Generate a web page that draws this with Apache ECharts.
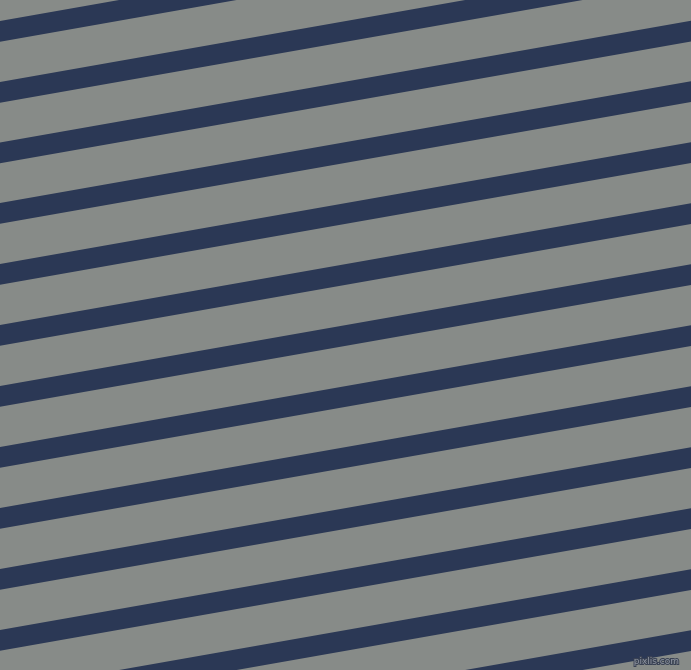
<!DOCTYPE html>
<html>
<head>
<meta charset="utf-8">
<script src="https://cdn.jsdelivr.net/npm/echarts@6/dist/echarts.min.js"></script>
<style>
html,body{margin:0;padding:0;background:#878b88;}
#main{width:691px;height:670px;}
</style>
</head>
<body>
<div id="main"></div>
<script>
// Stripe top-edge y values where each stripe meets the left (x=0) and right (x=691) edges
const stripeTopLeft  = [21, 82, 142.5, 203, 264, 325, 386, 447, 508, 569, 630, 691, 752];
const stripeTopRight = [-100.8, -39.8, 20.7, 81.2, 142.2, 203.2, 264.2, 325.2, 386.2, 447.2, 508.2, 569.2, 630.2];
const stripeThickness = [20.7, 20.7, 20.7, 20.7, 20.7, 20.7, 20.7, 20.7, 20.7, 20.7, 20.7, 20.7, 20.7];
const xExtent = [0, 691];
const yExtent = [0, 670];
const watermark = 'pixlis.com';

const data = stripeTopLeft.map((t, i) => [t, stripeTopRight[i], stripeThickness[i]]);

const chart = echarts.init(document.getElementById('main'), null, {renderer: 'canvas'});
chart.setOption({
  animation: false,
  backgroundColor: '#878b88',
  grid: {left: 0, right: 0, top: 0, bottom: 0},
  xAxis: {type: 'value', min: xExtent[0], max: xExtent[1], show: false},
  yAxis: {type: 'value', min: yExtent[0], max: yExtent[1], inverse: true, show: false},
  title: {
    text: watermark,
    right: 10, bottom: 2,
    padding: 0,
    textStyle: {
      fontFamily: 'DejaVu Sans', fontSize: 9, fontWeight: 'normal',
      color: '#8f95a0', textBorderColor: '#3a4254', textBorderWidth: 2
    }
  },
  series: [{
    type: 'custom',
    clip: true,
    data: data,
    renderItem: function (params, api) {
      const tl = api.value(0), tr = api.value(1), th = api.value(2);
      const p1 = api.coord([xExtent[0], tl]);
      const p2 = api.coord([xExtent[1], tr]);
      const p3 = api.coord([xExtent[1], tr + th]);
      const p4 = api.coord([xExtent[0], tl + th]);
      return {
        type: 'polygon',
        shape: {points: [p1, p2, p3, p4]},
        style: {fill: '#2b3855'}
      };
    }
  }]
});
</script>
</body>
</html>
